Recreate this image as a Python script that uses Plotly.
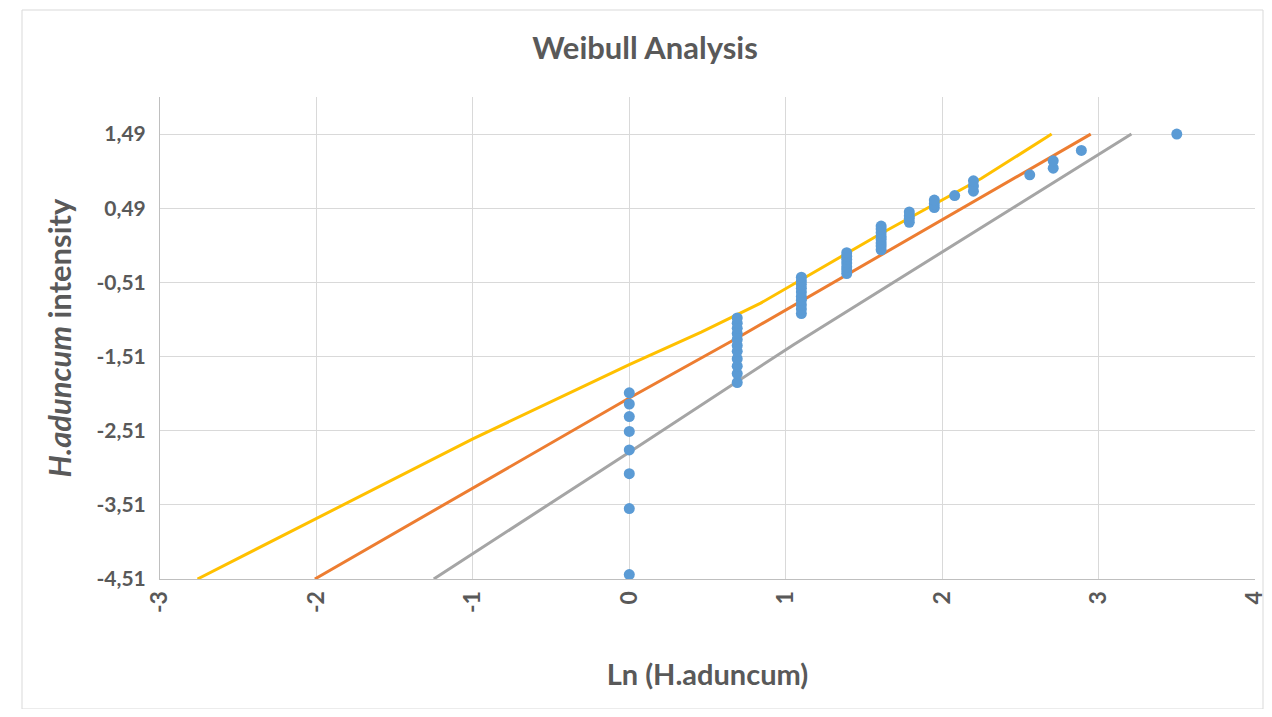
import plotly.graph_objects as go

# Observed points: Ln(H.aduncum) vs Weibull plotting position
ln_aduncum = [0.00, 0.00, 0.00, 0.00, 0.00, 0.00, 0.00, 0.00,
              0.69, 0.69, 0.69, 0.69, 0.69, 0.69, 0.69, 0.69, 0.69, 0.69, 0.69,
              1.10, 1.10, 1.10, 1.10, 1.10, 1.10, 1.10, 1.10, 1.10, 1.10,
              1.39, 1.39, 1.39, 1.39, 1.39, 1.39, 1.39,
              1.61, 1.61, 1.61, 1.61, 1.61, 1.61, 1.61, 1.61,
              1.79, 1.79, 1.79, 1.79,
              1.95, 1.95, 1.95,
              2.08,
              2.20, 2.20, 2.20,
              2.56,
              2.71, 2.71,
              2.89,
              3.50]
intensity = [-4.45, -3.56, -3.09, -2.77, -2.52, -2.32, -2.15, -2.00,
             -1.86, -1.74, -1.64, -1.54, -1.44, -1.36, -1.28, -1.20, -1.13, -1.06, -0.99,
             -0.93, -0.87, -0.81, -0.75, -0.70, -0.64, -0.59, -0.54, -0.49, -0.44,
             -0.39, -0.34, -0.30, -0.25, -0.20, -0.16, -0.11,
             -0.07, -0.02, 0.02, 0.07, 0.11, 0.16, 0.21, 0.25,
             0.30, 0.35, 0.39, 0.44,
             0.50, 0.55, 0.60,
             0.66,
             0.72, 0.79, 0.86,
             0.94,
             1.03, 1.13,
             1.27,
             1.49]

# Fitted / bound lines
yellow_x = [-2.76, -1.00, -0.31, 0.00, 0.46, 0.84, 1.61, 2.25, 2.70]
yellow_y = [-4.51, -2.62, -1.93, -1.62, -1.18, -0.79, 0.15, 0.89, 1.49]
orange_x = [-2.01, 0.00, 0.69, 2.25, 2.95]
orange_y = [-4.51, -2.07, -1.26, 0.64, 1.49]
gray_x = [-1.25, 0.00, 1.05, 3.21]
gray_y = [-4.51, -2.80, -1.35, 1.49]

y_ticks = [-4.51, -3.51, -2.51, -1.51, -0.51, 0.49, 1.49]
y_tick_text = ["-4,51", "-3,51", "-2,51", "-1,51", "-0,51", "0,49", "1,49"]
x_ticks = [-3, -2, -1, 0, 1, 2, 3, 4]

FONT = "Lato"
TXT = "#595959"

W, H = 1262, 701
L, R, T, B = 152, 15, 89, 130
PW, PH = W - L - R, H - T - B

fig = go.Figure()
fig.add_trace(go.Scatter(x=yellow_x, y=yellow_y, mode="lines",
                         line=dict(color="#FFC000", width=3), hoverinfo="skip"))
fig.add_trace(go.Scatter(x=orange_x, y=orange_y, mode="lines",
                         line=dict(color="#ED7D31", width=3), hoverinfo="skip"))
fig.add_trace(go.Scatter(x=gray_x, y=gray_y, mode="lines",
                         line=dict(color="#A5A5A5", width=3), hoverinfo="skip"))
fig.add_trace(go.Scatter(x=ln_aduncum, y=intensity, mode="markers",
                         marker=dict(color="#5B9BD5", size=11)))

fig.update_layout(
    width=W, height=H,
    margin=dict(l=L, r=R, t=T, b=B),
    paper_bgcolor="white", plot_bgcolor="white",
    showlegend=False,
    font=dict(family=FONT, color=TXT),
    title=dict(text="<b>Weibull Analysis</b>", x=637 / W, xanchor="center",
               y=1 - 40 / H, yanchor="middle",
               font=dict(family=FONT, size=31, color=TXT)),
)
fig.update_xaxes(range=[-3, 4], tickvals=x_ticks, ticktext=["<b>%s</b>" % v for v in x_ticks],
                 tickangle=-90, showgrid=True, gridcolor="#D9D9D9", gridwidth=1,
                 zeroline=False, showline=True, linecolor="#BFBFBF", linewidth=1,
                 tickfont=dict(family=FONT, size=23, color=TXT), ticks="", ticklabelstandoff=2,
                 ticklabeloverflow="allow", automargin=False,
                 title=dict(text="<b>Ln (H.aduncum)</b>", standoff=52,
                            font=dict(family=FONT, size=29, color=TXT)))
fig.update_yaxes(range=[-4.51, 1.99], tickvals=y_ticks, ticktext=["<b>%s</b>" % t for t in y_tick_text],
                 showgrid=True, gridcolor="#D9D9D9", gridwidth=1,
                 zeroline=False, showline=True, linecolor="#BFBFBF", linewidth=1,
                 tickfont=dict(family=FONT, size=21, color=TXT), ticks="", ticklabelstandoff=9,
                 automargin=False,
                 title=dict(text="<b><i>H.aduncum</i> intensity</b>", standoff=15,
                            font=dict(family=FONT, size=31, color=TXT)))

fig.add_shape(type="rect", xref="paper", yref="paper",
              x0=-(L - 14) / PW, x1=1 + 8 / PW, y0=-B / PH, y1=1 + 87 / PH,
              line=dict(color="#D9D9D9", width=1), fillcolor="rgba(0,0,0,0)", layer="below")

fig.write_html("out.html")
